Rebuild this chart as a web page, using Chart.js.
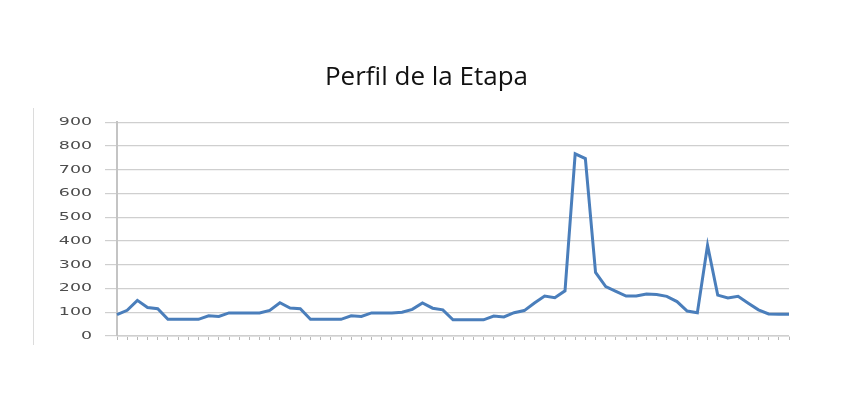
<!DOCTYPE html>
<html>
<head>
<meta charset="utf-8">
<script src="https://cdn.jsdelivr.net/npm/chart.js@4/dist/chart.umd.min.js"></script>
<style>
  html, body { margin: 0; padding: 0; background: #ffffff; }
  #wrap { position: relative; width: 853px; height: 417px; }
  #frame { position: absolute; left: 33px; top: 108px; width: 0; height: 237px; border-left: 1px solid #dcdcdc; }
  canvas { position: absolute; left: 0; top: 0; }
</style>
</head>
<body>
<div id="wrap">
  <canvas id="c" width="853" height="417"></canvas>
  <div id="frame"></div>
</div>
<script>
const titleText = 'Perfil de la Etapa';
const categories = ['1','2','3','4','5','6','7','8','9','10','11','12','13','14','15','16','17','18','19','20',
  '21','22','23','24','25','26','27','28','29','30','31','32','33','34','35','36','37','38','39','40',
  '41','42','43','44','45','46','47','48','49','50','51','52','53','54','55','56','57','58','59','60',
  '61','62','63','64','65','66','67'];
const altitude = [90,108,150,120,115,70,70,70,70,85,82,97,97,97,97,108,140,118,115,70,
  70,70,70,85,82,97,97,97,100,112,139,117,110,68,68,68,68,84,80,98,
  107,139,168,161,190,767,747,268,208,188,168,168,177,175,167,145,105,98,382,172,
  160,167,138,110,93,92,92];
const yTicks = [0,100,200,300,400,500,600,700,800,900];

const wideLabels = {
  id: 'wideLabels',
  beforeDraw(chart) {
    const s = chart.scales.y;
    if (!s || s._wideWrapped) return;
    const orig = s.drawLabels;
    s.drawLabels = function (area) {
      const ctx = this.ctx;
      const ax = this.right - 25;
      ctx.save();
      ctx.translate(ax, 0);
      ctx.scale(1.58, 1);
      ctx.translate(-ax, 0);
      orig.call(this, area);
      ctx.restore();
    };
    s._wideWrapped = true;
  }
};

new Chart(document.getElementById('c'), {
  type: 'line',
  data: {
    labels: categories,
    datasets: [{
      data: altitude,
      borderColor: '#4a7ebb',
      borderWidth: 3,
      pointRadius: 0,
      tension: 0,
      fill: false
    }]
  },
  options: {
    responsive: false,
    animation: false,
    layout: { padding: { left: 0, right: 0, top: 0, bottom: 71 } },
    plugins: {
      legend: { display: false },
      tooltip: { enabled: false },
      title: {
        display: true,
        text: titleText,
        color: '#111111',
        font: { family: 'Open Sans', size: 26, weight: 'normal' },
        padding: { top: 62, bottom: 29 }
      }
    },
    scales: {
      x: {
        type: 'category',
        offset: false,
        grid: { display: true, drawOnChartArea: false, drawTicks: true, tickLength: 4, color: '#b8b8b8' },
        border: { display: true, color: '#e0e0e0', width: 1 },
        ticks: { display: false, autoSkip: false, maxRotation: 0 },
        afterFit(scale) { scale.height = 10; }
      },
      y: {
        min: 0,
        max: 900,
        afterBuildTicks(scale) { scale.ticks = yTicks.map(v => ({ value: v })); },
        grid: { color: '#cfcfcf', lineWidth: 1.2, tickLength: 12, drawTicks: true },
        border: { display: true, color: '#c4c4c4', width: 2 },
        ticks: {
          color: '#4d4d4d',
          padding: 13,
          font: { family: 'DejaVu Sans', size: 11 }
        },
        afterFit(scale) { scale.width = 117; }
      },
      yRight: {
        position: 'right',
        display: true,
        min: 0,
        max: 900,
        grid: { display: false, drawTicks: false },
        border: { display: false },
        ticks: { display: false },
        afterFit(scale) { scale.width = 64; }
      }
    }
  },
  plugins: [wideLabels]
});
</script>
</body>
</html>
